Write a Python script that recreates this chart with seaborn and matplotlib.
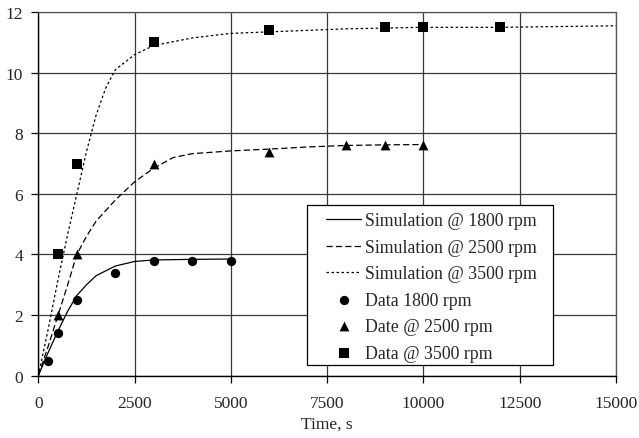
import matplotlib
matplotlib.use("Agg")
import matplotlib.pyplot as plt
from matplotlib.patches import Rectangle
import seaborn as sns
import pandas as pd

# Simulation curves
sim1800_t = [0, 250, 500, 750, 1000, 1250, 1500, 2000, 2500, 3000, 4000, 5000]
sim1800_v = [0, 0.75, 1.45, 2.1, 2.65, 3.0, 3.3, 3.62, 3.77, 3.82, 3.84, 3.85]

sim2500_t = [0, 250, 500, 750, 1000, 1250, 1500, 2000, 2500, 3000, 3500, 4000, 5000, 6000, 7000, 8000, 9000, 10000]
sim2500_v = [0, 0.95, 1.95, 2.95, 4.0, 4.6, 5.1, 5.8, 6.4, 6.85, 7.2, 7.33, 7.42, 7.48, 7.55, 7.6, 7.62, 7.63]

sim3500_t = [0, 250, 500, 750, 1000, 1250, 1500, 1750, 2000, 2500, 3000, 4000, 5000, 6000, 8000, 10000, 12000, 15000]
sim3500_v = [0, 1.5, 3.1, 4.6, 6.0, 7.4, 8.6, 9.5, 10.1, 10.6, 10.9, 11.15, 11.3, 11.35, 11.45, 11.5, 11.5, 11.55]

# Measured data
data1800_t = [250, 500, 1000, 2000, 3000, 4000, 5000]
data1800_v = [0.5, 1.4, 2.5, 3.4, 3.8, 3.8, 3.8]

data2500_t = [500, 1000, 3000, 6000, 8000, 9000, 10000]
data2500_v = [2.0, 4.0, 7.0, 7.4, 7.6, 7.6, 7.6]

data3500_t = [500, 1000, 3000, 6000, 9000, 10000, 12000]
data3500_v = [4.0, 7.0, 11.0, 11.4, 11.5, 11.5, 11.5]

x_ticks = [0, 2500, 5000, 7500, 10000, 12500, 15000]
y_ticks = [0, 2, 4, 6, 8, 10, 12]

sns.set_style("white")
plt.rcParams['font.family'] = ['Liberation Serif', 'DejaVu Serif']
plt.rcParams['font.size'] = 12.5

fig = plt.figure(figsize=(6.39, 4.39), dpi=100)
ax = fig.add_axes([0.06, 0.142, 0.904, 0.828])

sns.lineplot(x=sim1800_t, y=sim1800_v, ax=ax, color='black', linewidth=0.9,
             linestyle='-', label='Simulation @ 1800 rpm')
sns.lineplot(x=sim2500_t, y=sim2500_v, ax=ax, color='black', linewidth=0.9,
             linestyle=(0, (5, 2.5)), label='Simulation @ 2500 rpm')
sns.lineplot(x=sim3500_t, y=sim3500_v, ax=ax, color='black', linewidth=0.9,
             linestyle=(0, (2, 2)), label='Simulation @ 3500 rpm')

sns.scatterplot(x=data1800_t, y=data1800_v, ax=ax, color='black', marker='o',
                s=45, edgecolor='black', linewidth=0, label='Data 1800 rpm', zorder=5)
sns.scatterplot(x=data2500_t, y=data2500_v, ax=ax, color='black', marker='^',
                s=50, edgecolor='black', linewidth=0, label='Date @ 2500 rpm', zorder=5)
sns.scatterplot(x=data3500_t, y=data3500_v, ax=ax, color='black', marker='s',
                s=55, edgecolor='black', linewidth=0, label='Data @ 3500 rpm', zorder=5)

ax.set_xlim(0, 15000)
ax.set_ylim(0, 12)
ax.set_xticks(x_ticks)
ax.set_yticks(y_ticks)
ax.set_xticklabels([str(v) for v in x_ticks])
ax.set_yticklabels([str(v) for v in y_ticks])
ax.set_xlabel('Time, s', fontsize=12.5, labelpad=3)
ax.set_ylabel('')

ax.grid(True, color='#3a3a3a', linewidth=0.9)
ax.set_axisbelow(True)
for side in ['top', 'right']:
    ax.spines[side].set_color('#555555')
    ax.spines[side].set_linewidth(0.9)
for side in ['left', 'bottom']:
    ax.spines[side].set_color('black')
    ax.spines[side].set_linewidth(1.0)

ax.tick_params(axis='both', direction='out', length=5, width=0.9, color='black',
               labelsize=12.5, bottom=True, left=True)
ax.tick_params(axis='x', pad=9)
ax.tick_params(axis='y', pad=6)

# legend frame (white box with black edge) drawn behind the legend entries
frame = Rectangle((0.465, 0.0294), 0.426, 0.4403, transform=ax.transAxes,
                  facecolor='white', edgecolor='black', linewidth=0.9, zorder=6)
ax.add_patch(frame)

leg = ax.legend(loc='upper left', bbox_to_anchor=(0.498, 0.449),
                frameon=False, fontsize=12.8, handlelength=1.97,
                borderpad=0.0, labelspacing=0.53, handletextpad=0.22,
                borderaxespad=0.0)
leg.set_zorder(7)

fig.savefig('out.png', dpi=100)
